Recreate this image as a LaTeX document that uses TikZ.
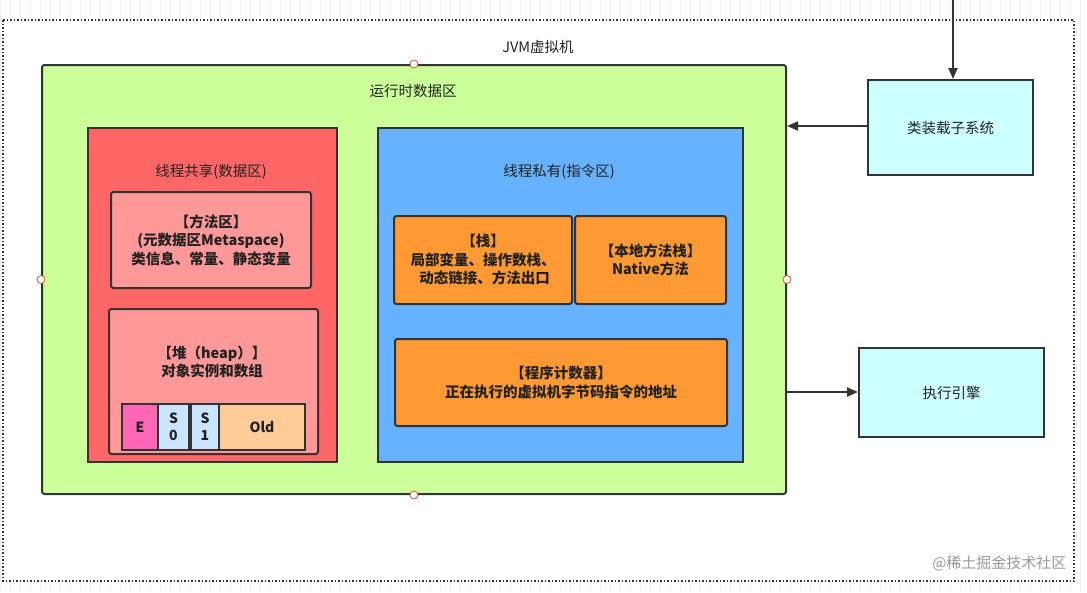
\documentclass[tikz,border=0pt]{standalone}
\usepackage{fontspec}
\setmainfont{Noto Sans CJK SC}
\newfontfamily\cjk{Noto Sans CJK SC}
\usetikzlibrary{arrows.meta}
\definecolor{edge}{HTML}{333333}
\definecolor{gbg}{HTML}{CCFF99}
\definecolor{rbg}{HTML}{FF6666}
\definecolor{pbg}{HTML}{FF9999}
\definecolor{bbg}{HTML}{66B2FF}
\definecolor{obg}{HTML}{FF9933}
\definecolor{cbg}{HTML}{CCFFFF}
\definecolor{ebg}{HTML}{FF66B3}
\definecolor{sbg}{HTML}{CCE5FF}
\definecolor{oldbg}{HTML}{FFCC99}
\definecolor{txt}{HTML}{222222}
\tikzset{
  box/.style={draw=edge, line width=2pt, rounded corners=2.5pt, font=\fontsize{14.5}{18.5}\selectfont\bfseries, text=txt, align=center, inner sep=0pt},
  flat/.style={draw=edge, line width=2pt, font=\fontsize{14.5}{18.5}\selectfont, text=txt, align=center, inner sep=0pt},
  lbl/.style={font=\fontsize{14.5}{18.5}\selectfont, text=txt, align=center},
  cell/.style={draw=edge, line width=2pt, font=\fontsize{14}{17}\selectfont\bfseries, text=txt, align=center, inner sep=0pt, minimum height=46pt, anchor=north west},
  handle/.style={circle, draw=brown!70!red, fill=white, line width=0.8pt, minimum size=8pt, inner sep=0pt},
  arr/.style={draw=edge, line width=2pt, -{Triangle[length=11pt,width=9pt]}},
}
\begin{document}
\begin{tikzpicture}[x=1pt,y=-1pt]
\useasboundingbox (0,0) rectangle (1087,592);
% faint grid background
\draw[black!6, line width=0.5pt, step=10] (0,0) grid (1087,592);
\fill[white] (3,20) rectangle (1074,581);
\draw[edge, line width=1.5pt, dotted] (3,20) rectangle (1074,581);
\node[lbl] (jvm) at (538,47) {JVM虚拟机};
% green runtime area
\node[box, fill=gbg, minimum width=744pt, minimum height=429pt, anchor=north west] (rt) at (41,64) {};
\node[lbl] (rtl) at (413,91) {运行时数据区};
% red shared area
\node[flat, fill=rbg, minimum width=249pt, minimum height=334pt, anchor=north west] (red) at (87,127) {};
\node[lbl] (redl) at (211,172) {线程共享(数据区)};
\node[box, fill=pbg, minimum width=200pt, minimum height=96pt, anchor=north west] (meth) at (110,191) {【方法区】\\(元数据区Metaspace)\\类信息、常量、静态变量};
\node[box, fill=pbg, minimum width=209pt, minimum height=145pt, anchor=north west] (heap) at (108,308) {};
\node[lbl, font=\fontsize{14.5}{18.5}\selectfont\bfseries] (heapl) at (212,362) {【堆（heap）】\\对象实例和数组};
\node[cell, fill=ebg, minimum width=36pt] (e) at (121,403) {E};
\node[cell, fill=sbg, minimum width=31pt] (s0) at (157,403) {S\\0};
\node[cell, fill=sbg, minimum width=28pt] (s1) at (190,403) {S\\1};
\node[cell, fill=oldbg, minimum width=86pt] (old) at (218,403) {Old};
% blue private area
\node[flat, fill=bbg, minimum width=365pt, minimum height=334pt, anchor=north west] (blue) at (377,127) {};
\node[lbl] (bluel) at (559,172) {线程私有(指令区)};
\node[box, fill=obg, minimum width=178pt, minimum height=88pt, anchor=north west] (stk) at (393,215) {【栈】\\局部变量、操作数栈、\\\ 动态链接、方法出口};
\node[box, fill=obg, minimum width=151pt, minimum height=88pt, anchor=north west] (nstk) at (574,215) {【本地方法栈】\\Native方法};
\node[box, fill=obg, minimum width=332pt, minimum height=87pt, anchor=north west] (pc) at (394,338) {【程序计数器】\\正在执行的虚拟机字节码指令的地址};
% right boxes
\node[flat, fill=cbg, minimum width=165pt, minimum height=95pt, anchor=north west] (cl) at (867,79) {类装载子系统};
\node[flat, fill=cbg, minimum width=185pt, minimum height=89pt, anchor=north west] (ee) at (858,347) {执行引擎};
% handles
\node[handle] (h1) at (rt.north) {};
\node[handle] (h2) at (rt.south) {};
\node[handle] (h3) at (rt.west) {};
\node[handle] (h4) at (rt.east) {};
% arrows
\coordinate (topin) at (953,0);
\draw[arr] (topin) -- (cl.north -| topin);
\draw[arr] (cl.west |- 0,126) -- (rt.east |- 0,126);
\draw[arr] (rt.east |- 0,392) -- (ee.west |- 0,392);
% watermark
\node[font=\fontsize{15}{17}\selectfont, text=black!40, anchor=east] (wm) at (1070,563) {@稀土掘金技术社区};
\end{tikzpicture}
\end{document}
